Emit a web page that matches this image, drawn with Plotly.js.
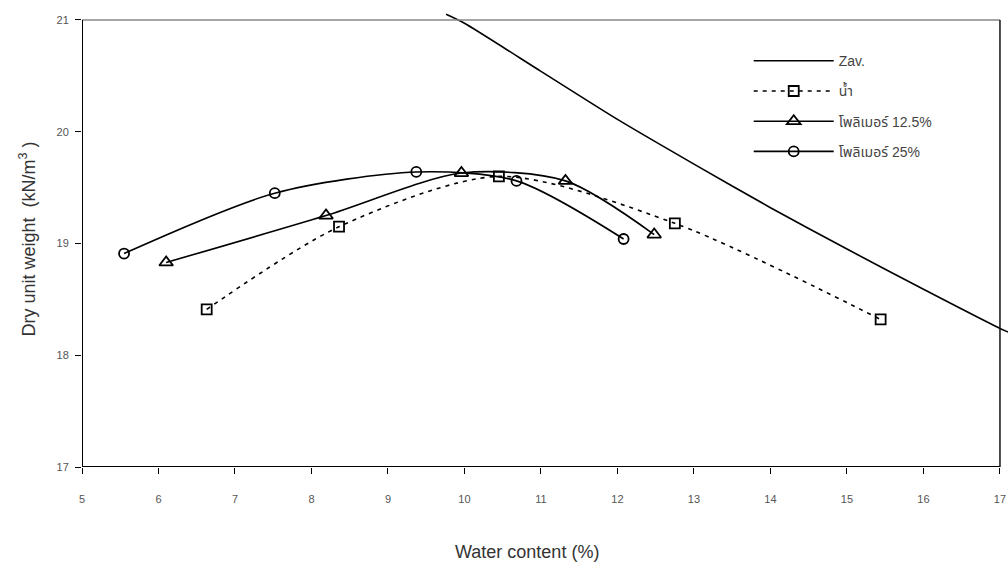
<!DOCTYPE html>
<html>
<head>
<meta charset="utf-8">
<script src="https://cdn.plot.ly/plotly-3.0.1.min.js"></script>
<style>html,body{margin:0;padding:0;background:#fff}#chart{width:1008px;height:567px}</style>
</head>
<body>
<div id="chart"></div>
<script>
// Zero air voids curve
var zavW = [9.76, 10, 11, 12, 13, 14, 15, 16, 17, 17.2];
var zavG = [21.05, 20.97, 20.54, 20.11, 19.71, 19.32, 18.95, 18.59, 18.24, 18.18];
// Water
var waterW = [6.63, 8.36, 10.45, 12.75, 15.44];
var waterG = [18.41, 19.15, 19.60, 19.18, 18.32];
// Polymer 12.5%
var p125W = [6.10, 8.19, 9.96, 11.32, 12.48];
var p125G = [18.83, 19.25, 19.63, 19.56, 19.08];
// Polymer 25%
var p25W = [5.55, 7.52, 9.37, 10.68, 12.08];
var p25G = [18.91, 19.45, 19.64, 19.56, 19.04];

var seriesNames = ["Zav.", "น้ำ", "โพลิเมอร์ 12.5%", "โพลิเมอร์ 25%"];
var xTicks = [5, 6, 7, 8, 9, 10, 11, 12, 13, 14, 15, 16, 17];
var yTicks = [17, 18, 19, 20, 21];
var xTitle = "Water content (%)";
var yTitle = "Dry unit weight  (kN/m<sup>3</sup> )";

var thaiFont = "Liberation Sans, Arial, Noto Sans Thai, Loma, Tahoma, sans-serif";

var traces = [
  {x: zavW, y: zavG, name: seriesNames[0], mode: "lines", legendgroup: "a",
   line: {color: "#000", width: 1.6, shape: "spline", smoothing: 0.6}},
  {x: waterW, y: waterG, name: seriesNames[1], mode: "lines+markers", legendgroup: "b",
   line: {color: "#000", width: 1.6, dash: "4px,5px", shape: "spline", smoothing: 0.8},
   marker: {symbol: "square-open", size: 10, color: "#000", line: {width: 1.8}}},
  {x: p125W, y: p125G, name: seriesNames[2], mode: "lines+markers", legendgroup: "c",
   line: {color: "#000", width: 1.6, shape: "spline", smoothing: 0.8},
   marker: {symbol: "triangle-up-open", size: 12, color: "#000", line: {width: 1.8}}},
  {x: p25W, y: p25G, name: seriesNames[3], mode: "lines+markers", legendgroup: "d",
   line: {color: "#000", width: 1.6, shape: "spline", smoothing: 0.8},
   marker: {symbol: "circle-open", size: 10, color: "#000", line: {width: 1.8}}}
];

var layout = {
  width: 1008, height: 567,
  margin: {l: 82, r: 0, t: 11, b: 100},
  paper_bgcolor: "#fff", plot_bgcolor: "#fff",
  font: {family: thaiFont, color: "#444"},
  showlegend: true,
  legend: {x: 0.72, y: 0.925, xanchor: "left", yanchor: "top",
    font: {size: 14, color: "#444", family: thaiFont},
    bgcolor: "rgba(0,0,0,0)", tracegroupgap: 9, itemwidth: 80},
  xaxis: {range: [5, 17.105], tickvals: xTicks, ticktext: xTicks.map(String),
    showgrid: false, zeroline: false, showline: false,
    ticks: "outside", ticklen: 6, tickcolor: "#000", tickwidth: 1,
    ticklabelstandoff: 16,
    tickfont: {size: 11, color: "#555", family: thaiFont}},
  yaxis: {range: [17, 21.08], tickvals: yTicks, ticktext: yTicks.map(String),
    showgrid: false, zeroline: false, showline: false,
    ticks: "outside", ticklen: 6, tickcolor: "#000", tickwidth: 1,
    ticklabelstandoff: 4,
    tickfont: {size: 11, color: "#555", family: thaiFont},
    title: {text: yTitle, font: {size: 18, color: "#333", family: thaiFont}, standoff: 16}},
  annotations: [
    {text: xTitle, xref: "paper", yref: "paper", x: 0.4806, y: -0.186,
     xanchor: "center", yanchor: "middle", showarrow: false,
     font: {size: 18, color: "#333", family: thaiFont}}
  ],
  shapes: [
    {type: "line", xref: "x", yref: "y", x0: 5, x1: 17, y0: 21, y1: 21, line: {color: "#888", width: 1.5}},
    {type: "line", xref: "x", yref: "y", x0: 17, x1: 17, y0: 17, y1: 21, line: {color: "#111", width: 1.5}},
    {type: "line", xref: "x", yref: "y", x0: 5, x1: 17, y0: 17, y1: 17, line: {color: "#000", width: 2}},
    {type: "line", xref: "x", yref: "y", x0: 5, x1: 5, y0: 17, y1: 21, line: {color: "#000", width: 2}}
  ]
};

Plotly.newPlot("chart", traces, layout, {displayModeBar: false, staticPlot: true});
</script>
</body>
</html>
